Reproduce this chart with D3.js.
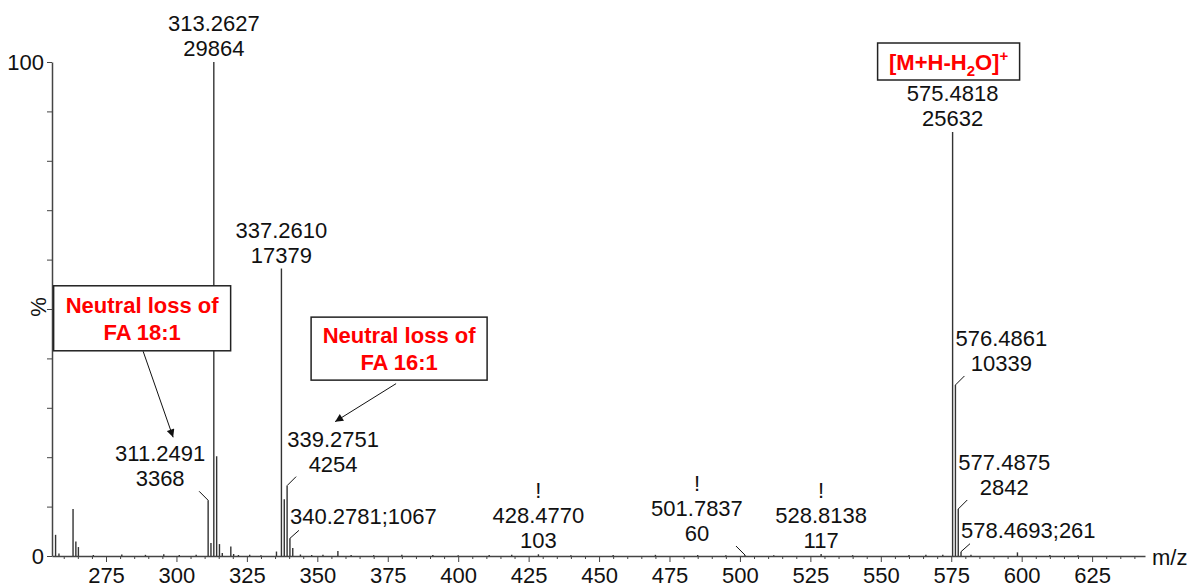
<!DOCTYPE html>
<html>
<head>
<meta charset="utf-8">
<script src="https://cdn.jsdelivr.net/npm/d3@7"></script>
<style>
  body { margin: 0; background: #fff; }
  svg { display: block; font-family: "Liberation Sans", Arial, sans-serif; }
</style>
</head>
<body>
<div id="chart"></div>
<script>
// Peaks: m/z and raw counts
const peakMz = [
  257.1, 258.3, 263.3, 264.3, 265.2, 270.5, 280.6, 289.0, 295.5, 301.0, 307.0,
  311.2491, 312.25, 313.2627, 314.27, 315.27, 316.27, 319.3, 320.3, 322.0, 326.0, 330.0,
  335.5, 337.2610, 338.27, 339.2751, 340.2781, 341.28, 344.0, 348.0, 352.0, 357.3,
  362.0, 370.0, 380.0, 391.0, 400.0, 411.0, 419.0, 428.4770, 440.0, 455.0, 470.0,
  485.0, 495.0, 501.7837, 512.0, 528.8138, 540.0, 560.0, 566.0, 572.0,
  575.4818, 576.4861, 577.4875, 578.4693, 582.0, 598.5, 610.0, 620.0
];
const peakCounts = [
  1280, 150, 2840, 870, 540, 60, 90, 70, 110, 60, 80,
  3368, 780, 29864, 6030, 720, 180, 570, 120, 60, 70, 50,
  270, 17379, 3430, 4254, 1067, 480, 90, 60, 70, 300,
  60, 50, 70, 60, 50, 60, 70, 103, 50, 60, 70,
  60, 50, 60, 50, 117, 50, 60, 70, 80,
  25632, 10339, 2842, 261, 70, 220, 60, 50
];
const basePeak = 29864;

// Labelled peaks
const labelMz = [313.2627, 575.4818, 337.2610, 311.2491, 339.2751, 340.2781,
  576.4861, 577.4875, 578.4693, 428.4770, 501.7837, 528.8138];
const labelCounts = [29864, 25632, 17379, 3368, 4254, 1067,
  10339, 2842, 261, 103, 60, 117];
const labelFlag = [false, false, false, false, false, false,
  false, false, false, true, true, true];

const xTicks = d3.range(275, 626, 25);
const xMinorTicks = d3.range(260, 644, 5).filter(d => d % 25 !== 0);
const yTicks = d3.range(0, 101, 10);
const yTickLabels = [0, 100];

const boxTexts = [
  ['Neutral loss of', 'FA 18:1'],
  ['Neutral loss of', 'FA 16:1'],
];
const boxTargets = [311.2491, 339.2751];

// how each label sits around its peak
const labelKind = ['top', 'top', 'top', 'left', 'right', 'inline',
  'right', 'right', 'inline', 'top', 'left', 'top'];

const width = 1192;
const height = 585;
const fontSize = 22;
const lineGap = 25;
// text baseline for a wanted visual centre of digits
const base = c => c + 8;

const svg = d3.select('#chart').append('svg')
  .attr('width', width)
  .attr('height', height);

const x = d3.scaleLinear().domain([255.83, 643.77]).range([52, 1145]);
const y = d3.scaleLinear().domain([0, 100]).range([556, 62]);
const pct = c => (c / basePeak) * 100;

svg.append('defs').append('marker')
  .attr('id', 'arrow')
  .attr('viewBox', '0 0 10 10')
  .attr('refX', 10).attr('refY', 5)
  .attr('markerWidth', 10).attr('markerHeight', 8)
  .attr('markerUnits', 'userSpaceOnUse')
  .attr('orient', 'auto')
  .append('path')
  .attr('d', 'M0,0 L10,5 L0,10 z')
  .attr('fill', '#111');

// Axes
const xMinor = d3.axisBottom(x).tickValues(xMinorTicks).tickSize(3).tickFormat('').tickSizeOuter(0);
const xAxis = d3.axisBottom(x).tickValues(xTicks).tickSize(6).tickPadding(5).tickSizeOuter(0);
const yAxis = d3.axisLeft(y).tickValues(yTicks).tickSize(5).tickPadding(3).tickSizeOuter(0)
  .tickFormat(d => (yTickLabels.includes(d) ? d : ''));

const gMinor = svg.append('g').attr('transform', `translate(0,${y(0)})`).call(xMinor);
gMinor.select('.domain').remove();
const gx = svg.append('g').attr('transform', `translate(0,${y(0)})`).call(xAxis);
const gy = svg.append('g').attr('transform', `translate(${x.range()[0]},0)`).call(yAxis);

[gMinor, gx, gy].forEach(g => {
  g.selectAll('.domain').attr('stroke', '#444').attr('stroke-width', 1.5);
  g.selectAll('.tick line').attr('stroke', '#444').attr('stroke-width', 1);
  g.selectAll('.tick text')
    .attr('fill', '#111')
    .style('font-size', fontSize + 'px')
    .style('font-family', '"Liberation Sans", Arial, sans-serif');
});

svg.append('text')
  .attr('transform', 'translate(38,307) rotate(-90)')
  .attr('y', 8)
  .attr('text-anchor', 'middle')
  .style('font-size', fontSize + 'px')
  .attr('fill', '#111')
  .text('%');

svg.append('text')
  .attr('x', 1152).attr('y', base(557))
  .style('font-size', fontSize + 'px')
  .attr('fill', '#111')
  .text('m/z');

// Peaks
svg.append('g').selectAll('line')
  .data(peakMz)
  .join('line')
  .attr('x1', d => x(d)).attr('x2', d => x(d))
  .attr('y1', y(0))
  .attr('y2', (d, i) => y(pct(peakCounts[i])))
  .attr('stroke', '#333')
  .attr('stroke-width', 1.4);

// Peak labels
const labels = svg.append('g').style('font-size', fontSize + 'px').attr('fill', '#111');

labelMz.forEach((m, i) => {
  const px = x(m);
  const py = y(pct(labelCounts[i]));
  const kind = labelKind[i];
  const t1 = m.toFixed(4);
  const t2 = String(labelCounts[i]);
  let cx, c1, c2;

  if (kind === 'top') {
    cx = px; c1 = py - 39; c2 = py - 14;
  } else if (kind === 'left') {
    cx = px - 48; c1 = py - 47; c2 = py - 22;
    labels.append('line')
      .attr('x1', px).attr('y1', py).attr('x2', px - 9).attr('y2', py - 9)
      .attr('stroke', '#111').attr('stroke-width', 1);
  } else if (kind === 'right') {
    cx = px + 46; c1 = py - 47; c2 = py - 22;
    labels.append('line')
      .attr('x1', px).attr('y1', py).attr('x2', px + 9).attr('y2', py - 9)
      .attr('stroke', '#111').attr('stroke-width', 1);
  } else {
    labels.append('line')
      .attr('x1', px).attr('y1', py).attr('x2', px + 9).attr('y2', py - 8)
      .attr('stroke', '#111').attr('stroke-width', 1);
    labels.append('text')
      .attr('x', px).attr('y', base(py - 22))
      .text(`${t1};${t2}`);
    return;
  }

  labels.append('text').attr('x', cx).attr('y', base(c1))
    .attr('text-anchor', 'middle').text(t1);
  labels.append('text').attr('x', cx).attr('y', base(c2))
    .attr('text-anchor', 'middle').text(t2);
  if (labelFlag[i]) {
    labels.append('text').attr('x', cx).attr('y', base(c1 - 25))
      .attr('text-anchor', 'middle').text('!');
  }
});

// Red annotation boxes with arrows
const boxLayout = [
  { dx: -66, dy: -182, w: 177, h: 65, from: [-65, -149], to: [-35, -63] },
  { dx: 112, dy: -137, w: 176, h: 63, from: [109, -102], to: [48, -64] },
];

const ann = svg.append('g');
boxTargets.forEach((m, i) => {
  const px = x(m);
  const py = y(pct(labelCounts[labelMz.indexOf(m)]));
  const b = boxLayout[i];
  const bx = px + b.dx;
  const by = py + b.dy;
  ann.append('rect')
    .attr('x', bx - b.w / 2).attr('y', by - b.h / 2)
    .attr('width', b.w).attr('height', b.h)
    .attr('fill', '#fff').attr('stroke', '#222').attr('stroke-width', 1.5);
  boxTexts[i].forEach((t, j) => {
    ann.append('text')
      .attr('x', bx).attr('y', base(by - 13.5 + j * 27))
      .attr('text-anchor', 'middle')
      .attr('fill', '#ff0000')
      .style('font-size', fontSize + 'px')
      .style('font-weight', 'bold')
      .text(t);
  });
  ann.append('line')
    .attr('x1', px + b.from[0]).attr('y1', py + b.from[1])
    .attr('x2', px + b.to[0]).attr('y2', py + b.to[1])
    .attr('stroke', '#111').attr('stroke-width', 1)
    .attr('marker-end', 'url(#arrow)');
});

// Molecular ion box
{
  const m = 575.4818;
  const px = x(m);
  const py = y(pct(labelCounts[labelMz.indexOf(m)]));
  const bx = px - 4;
  const by = py - 70.5;
  ann.append('rect')
    .attr('x', bx - 71).attr('y', by - 18.5)
    .attr('width', 142).attr('height', 37)
    .attr('fill', '#fff').attr('stroke', '#222').attr('stroke-width', 1.5);
  const t = ann.append('text')
    .attr('x', bx).attr('y', base(by))
    .attr('text-anchor', 'middle')
    .attr('fill', '#ff0000')
    .style('font-size', fontSize + 'px')
    .style('font-weight', 'bold');
  t.append('tspan').text('[M+H-H');
  t.append('tspan').attr('dy', 6).style('font-size', '15px').text('2');
  t.append('tspan').attr('dy', -6).text('O]');
  t.append('tspan').attr('dy', -9).style('font-size', '15px').text('+');
}
</script>
</body>
</html>
